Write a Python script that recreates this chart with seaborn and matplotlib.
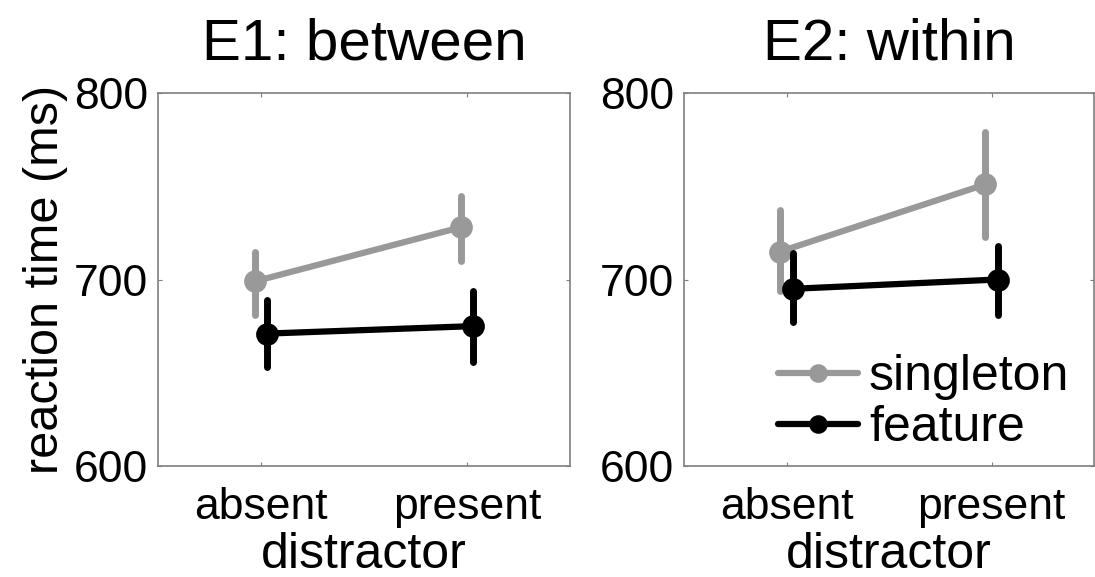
import numpy as np
import pandas as pd
import matplotlib
matplotlib.use("Agg")
import matplotlib.pyplot as plt
import seaborn as sns

# ---- data ----
conditions = ["absent", "present"]
groups = ["singleton", "feature"]
panels = ["E1: between", "E2: within"]

# E1 means and error-bar ends (ms)
e1_singleton_mean = [699, 728]
e1_singleton_low = [681, 710]
e1_singleton_high = [715, 745]
e1_feature_mean = [671, 675]
e1_feature_low = [653, 656]
e1_feature_high = [689, 694]

# E2 means and error-bar ends (ms)
e2_singleton_mean = [715, 751]
e2_singleton_low = [694, 723]
e2_singleton_high = [737, 779]
e2_feature_mean = [695, 700]
e2_feature_low = [677, 681]
e2_feature_high = [714, 718]

yticks = [600, 700, 800]

# ---- build long table ----
rows = []
def add(panel, group, lo, mid, hi):
    for c, a, m, b in zip(conditions, lo, mid, hi):
        for v in (a, m, b):
            rows.append({"panel": panel, "group": group, "distractor": c, "rt": v})

add(panels[0], "singleton", e1_singleton_low, e1_singleton_mean, e1_singleton_high)
add(panels[0], "feature", e1_feature_low, e1_feature_mean, e1_feature_high)
add(panels[1], "singleton", e2_singleton_low, e2_singleton_mean, e2_singleton_high)
add(panels[1], "feature", e2_feature_low, e2_feature_mean, e2_feature_high)
df = pd.DataFrame(rows)

sns.set_theme(style="white")
plt.rcParams["font.family"] = ["Liberation Sans", "DejaVu Sans"]
plt.rcParams["text.color"] = "black"
plt.rcParams["axes.labelcolor"] = "black"
plt.rcParams["axes.titlecolor"] = "black"
plt.rcParams["xtick.labelcolor"] = "black"
plt.rcParams["ytick.labelcolor"] = "black"

palette = {"singleton": "#999999", "feature": "#000000"}
spine_col = "#7f7f7f"

fig = plt.figure(figsize=(10.95, 5.77), dpi=100)
ax_pos = [
    [158 / 1095, 1 - 466 / 577, 412 / 1095, 373 / 577],
    [684 / 1095, 1 - 466 / 577, 410 / 1095, 373 / 577],
]

for i, panel in enumerate(panels):
    ax = fig.add_axes(ax_pos[i])
    sub = df[df["panel"] == panel]
    sns.pointplot(
        data=sub, x="distractor", y="rt", hue="group",
        order=conditions, hue_order=groups, palette=palette,
        estimator=np.median, errorbar=lambda v: (v.min(), v.max()),
        dodge=0.06, markers="o", markersize=13, linewidth=4.5,
        err_kws={"linewidth": 5}, ax=ax, legend=(i == 1),
    )
    ax.set_xlim(-0.5, 1.5)
    ax.set_ylim(600, 800)
    ax.set_yticks(yticks)
    ax.set_yticklabels([str(t) for t in yticks])
    ax.set_title(panel, fontsize=42, pad=24)
    ax.set_xlabel("distractor", fontsize=36, labelpad=3)
    if i == 0:
        ax.set_ylabel("reaction time (ms)", fontsize=35, labelpad=4)
    else:
        ax.set_ylabel("")
    ax.tick_params(axis="both", direction="in", length=3, width=0.8,
                   color=spine_col, labelsize=32, labelcolor="black",
                   top=True, right=True, left=True, bottom=True)
    ax.tick_params(axis="x", pad=15)
    ax.tick_params(axis="y", pad=7)
    for s in ax.spines.values():
        s.set_visible(True)
        s.set_color(spine_col)
        s.set_linewidth(1.2)
    if i == 1:
        leg = ax.get_legend()
        handles = leg.legend_handles
        labels = [t.get_text() for t in leg.texts]
        leg.remove()
        for h in handles:
            h.set_linewidth(4.5)
            h.set_markersize(10)
        ax.legend(handles, labels, loc="lower left", bbox_to_anchor=(0.229, 0.04),
                  frameon=False, fontsize=36, handlelength=1.6, handletextpad=0.22,
                  labelspacing=0.1, borderpad=0, borderaxespad=0)

fig.savefig("out.png", dpi=100, facecolor="white")
